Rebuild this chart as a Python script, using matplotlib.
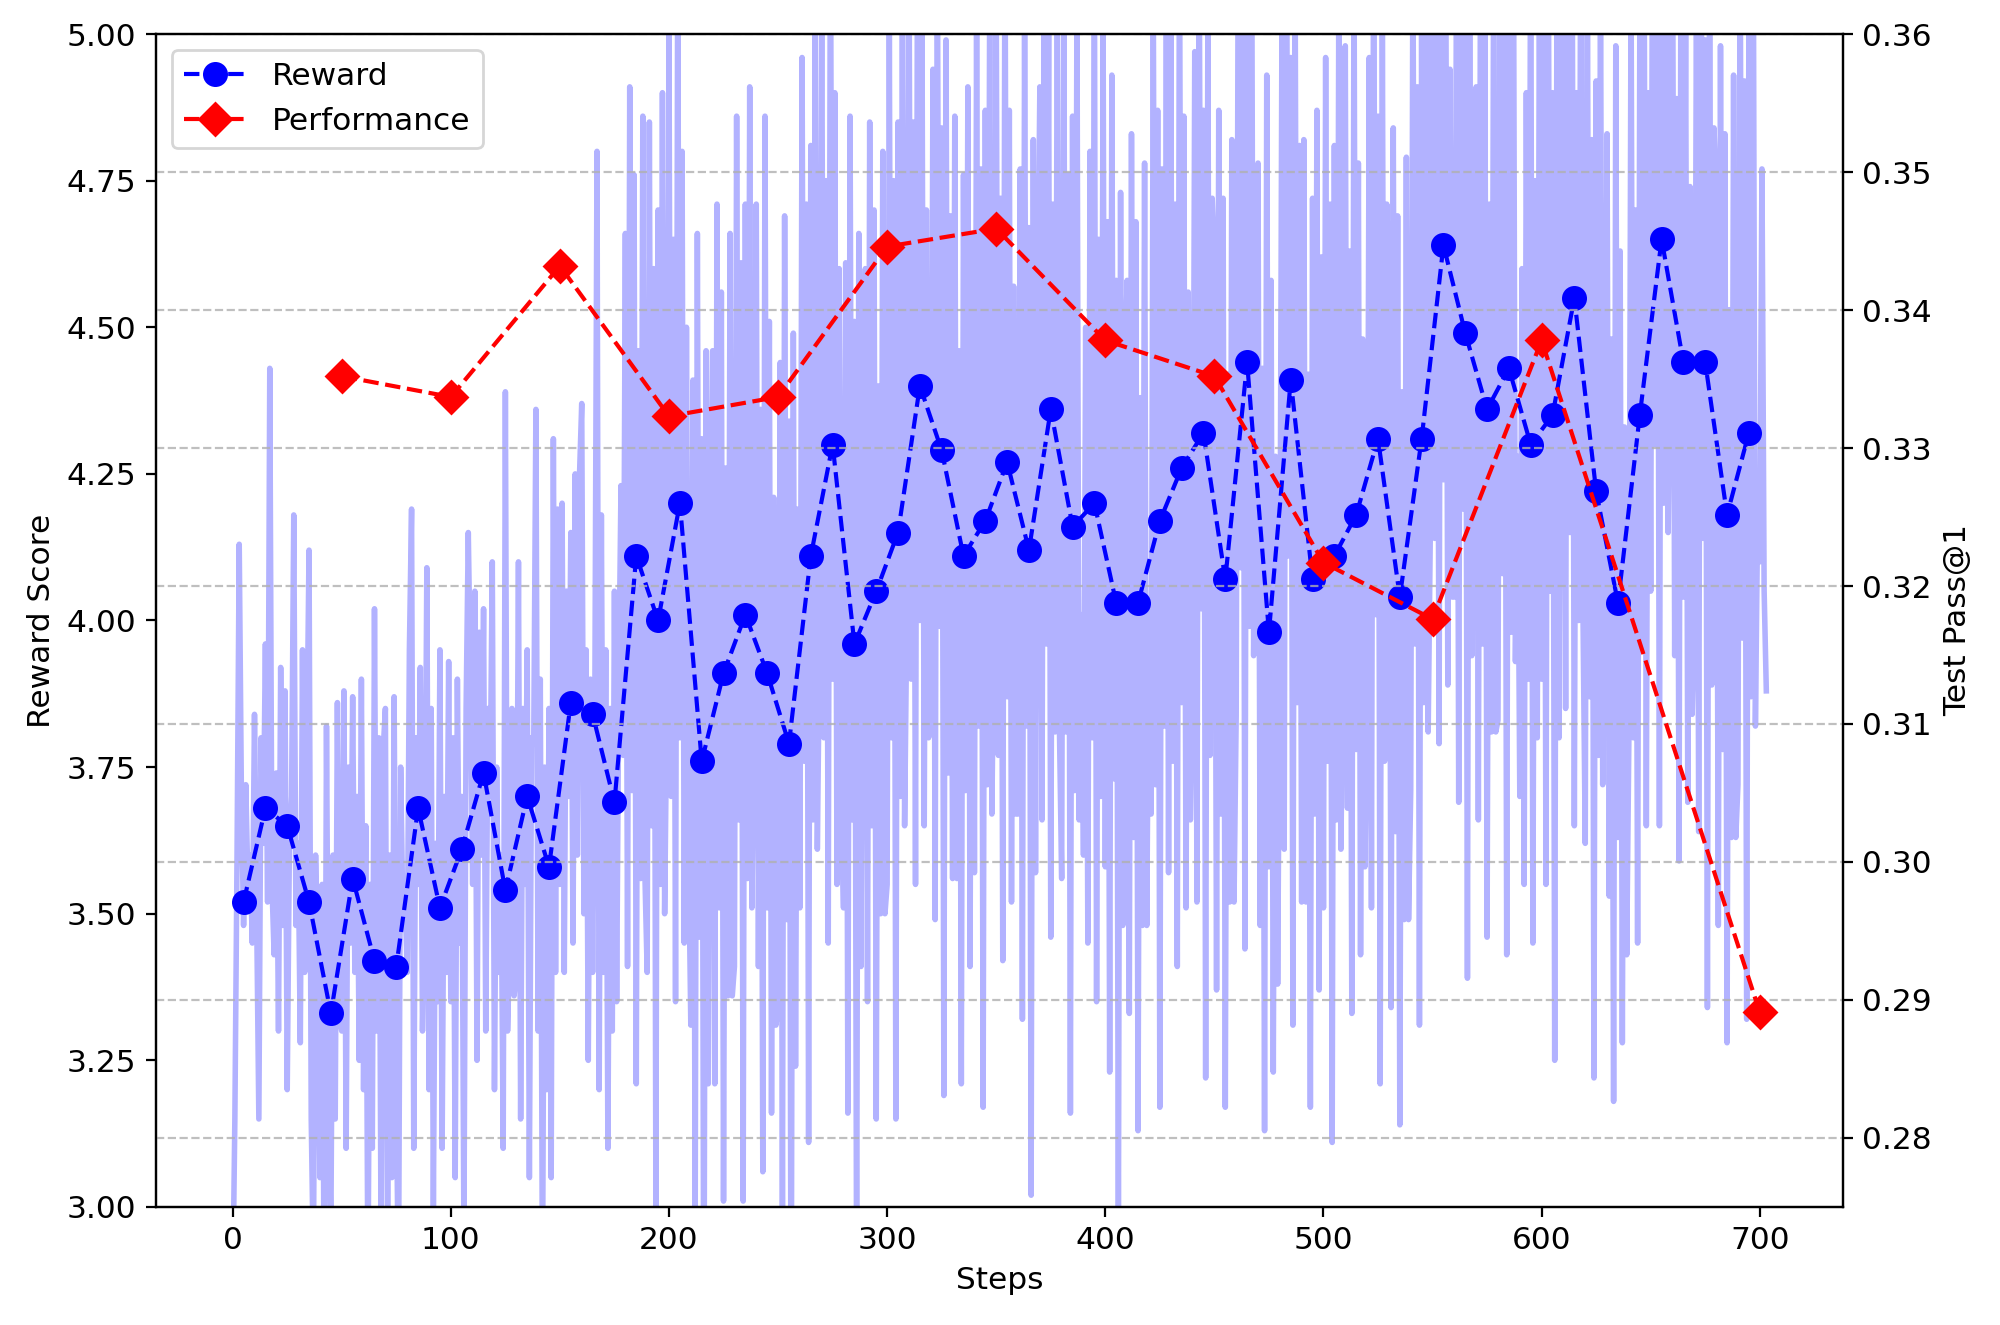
# Reward vs test performance over training steps

import matplotlib
matplotlib.use('Agg')
import matplotlib.pyplot as plt
import numpy as np

plt.rcParams['font.size'] = 11.25

# per-step reward (steps 0..703) in blocks of 10
raw_reward = [
    2.85, 3.15, 3.60, 4.13, 3.70, 3.48, 3.72, 3.55, 3.60, 3.45,
    3.84, 3.50, 3.15, 3.80, 3.62, 3.96, 3.52, 4.43, 3.55, 3.43,
    3.74, 3.30, 3.92, 3.48, 3.88, 3.20, 3.62, 3.70, 4.18, 3.48,
    3.62, 3.28, 3.95, 3.40, 3.78, 4.12, 3.15, 2.90, 3.60, 3.40,
    3.05, 3.55, 2.80, 3.82, 3.20, 2.95, 3.60, 3.15, 3.86, 3.32,
    3.30, 3.88, 3.10, 3.75, 3.45, 3.87, 3.40, 3.70, 3.25, 3.90,
    3.20, 3.65, 2.85, 3.55, 3.10, 4.02, 3.30, 3.80, 2.95, 3.78,
    3.85, 2.90, 3.60, 3.05, 3.87, 3.20, 2.85, 3.75, 3.50, 3.53,
    3.40, 3.95, 4.19, 3.10, 3.80, 3.55, 3.92, 3.30, 3.50, 4.09,
    3.20, 3.85, 3.00, 3.62, 3.35, 3.95, 3.10, 3.70, 3.40, 3.93,
    3.35, 3.80, 3.05, 3.90, 3.45, 3.70, 2.95, 3.85, 4.15, 3.90,
    3.55, 4.05, 3.25, 3.98, 3.60, 4.02, 3.30, 3.85, 3.70, 4.10,
    3.20, 3.75, 3.40, 3.60, 3.10, 4.39, 3.30, 3.45, 3.85, 3.36,
    3.40, 4.10, 3.15, 3.85, 3.55, 3.95, 3.05, 3.80, 3.79, 4.36,
    3.30, 3.90, 2.85, 3.75, 3.20, 3.85, 3.05, 4.31, 3.40, 4.19,
    3.55, 4.20, 3.40, 4.05, 3.70, 4.15, 3.45, 4.25, 3.60, 4.25,
    4.37, 3.50, 3.95, 3.25, 3.90, 3.40, 3.85, 4.80, 3.20, 4.18,
    3.40, 3.95, 3.10, 3.85, 3.30, 4.05, 3.35, 3.90, 4.23, 3.77,
    4.66, 3.41, 4.91, 3.71, 4.76, 3.21, 4.46, 3.56, 4.86, 3.56,
    3.40, 4.85, 3.65, 4.60, 3.00, 4.70, 3.55, 4.90, 3.50, 3.85,
    5.00, 3.70, 4.65, 3.35, 5.15, 3.80, 4.80, 3.45, 4.50, 3.60,
    3.31, 4.41, 2.96, 4.66, 3.46, 4.31, 2.66, 4.46, 3.21, 4.16,
    4.46, 3.21, 4.71, 3.51, 4.56, 3.01, 4.26, 3.36, 4.66, 3.36,
    3.41, 4.86, 3.66, 4.61, 3.01, 4.71, 3.56, 4.91, 3.51, 3.86,
    4.71, 3.41, 4.36, 3.06, 4.86, 3.51, 4.51, 3.16, 4.21, 3.31,
    3.34, 4.44, 2.99, 4.69, 3.49, 4.34, 2.69, 4.49, 3.24, 4.19,
    3.51, 4.96, 3.76, 4.71, 3.11, 4.81, 3.66, 5.01, 3.61, 3.96,
    5.10, 3.80, 4.75, 3.45, 5.25, 3.90, 4.90, 3.55, 4.60, 3.70,
    3.51, 4.61, 3.16, 4.86, 3.66, 4.51, 2.86, 4.66, 3.41, 4.36,
    4.60, 3.35, 4.85, 3.65, 4.70, 3.15, 4.40, 3.50, 4.80, 3.50,
    3.55, 5.00, 3.80, 4.75, 3.15, 4.85, 3.70, 5.05, 3.65, 4.00,
    5.20, 3.90, 4.85, 3.55, 5.35, 4.00, 5.00, 3.65, 4.70, 3.80,
    3.84, 4.94, 3.49, 5.19, 3.99, 4.84, 3.19, 4.99, 3.74, 4.69,
    3.56, 4.86, 3.56, 4.46, 3.21, 4.76, 3.71, 4.91, 3.41, 4.66,
    3.57, 5.02, 3.82, 4.77, 3.17, 4.87, 3.72, 5.07, 3.67, 4.02,
    5.07, 3.77, 4.72, 3.42, 5.22, 3.87, 4.87, 3.52, 4.57, 3.67,
    3.67, 4.77, 3.32, 5.02, 3.82, 4.67, 3.02, 4.82, 3.57, 4.52,
    4.91, 3.66, 5.16, 3.96, 5.01, 3.46, 4.71, 3.81, 5.11, 3.81,
    3.56, 5.01, 3.81, 4.76, 3.16, 4.86, 3.71, 5.06, 3.66, 4.01,
    3.60, 4.50, 3.45, 4.80, 3.80, 5.15, 3.35, 4.65, 3.70, 5.00,
    3.58, 4.68, 3.23, 4.93, 3.73, 4.58, 2.93, 4.73, 3.48, 4.43,
    4.58, 3.33, 4.83, 3.63, 4.68, 3.13, 4.38, 3.48, 4.78, 3.48,
    4.02, 3.67, 5.07, 3.72, 4.87, 3.17, 4.77, 3.82, 5.02, 3.57,
    5.06, 3.76, 4.71, 3.41, 5.21, 3.86, 4.86, 3.51, 4.56, 3.66,
    3.87, 4.97, 3.52, 5.22, 4.02, 4.87, 3.22, 5.02, 3.77, 4.72,
    4.62, 3.37, 4.87, 3.67, 4.72, 3.17, 4.42, 3.52, 4.82, 3.52,
    3.84, 5.29, 4.09, 5.04, 3.44, 5.14, 3.99, 5.34, 3.94, 4.29,
    4.78, 3.48, 4.43, 3.13, 4.93, 3.58, 4.58, 3.23, 4.28, 3.38,
    3.96, 5.06, 3.61, 5.31, 4.11, 4.96, 3.31, 5.11, 3.86, 4.81,
    3.52, 4.82, 3.52, 4.42, 3.17, 4.72, 3.67, 4.87, 3.37, 4.62,
    3.51, 4.96, 3.76, 4.71, 3.11, 4.81, 3.66, 5.01, 3.61, 3.96,
    4.98, 3.68, 4.63, 3.33, 5.13, 3.78, 4.78, 3.43, 4.48, 3.58,
    3.86, 4.96, 3.51, 5.21, 4.01, 4.86, 3.21, 5.01, 3.76, 4.71,
    4.59, 3.34, 4.84, 3.64, 4.69, 3.14, 4.39, 3.49, 4.79, 3.49,
    3.71, 5.16, 3.96, 4.91, 3.31, 5.01, 3.86, 5.21, 3.81, 4.16,
    5.44, 4.14, 5.09, 3.79, 5.59, 4.24, 5.24, 3.89, 4.94, 4.04,
    4.04, 5.14, 3.69, 5.39, 4.19, 5.04, 3.39, 5.19, 3.94, 4.89,
    4.91, 3.66, 5.16, 3.96, 5.01, 3.46, 4.71, 3.81, 5.11, 3.81,
    3.83, 5.28, 4.08, 5.03, 3.43, 5.13, 3.98, 5.33, 3.93, 4.28,
    3.70, 4.60, 3.55, 4.90, 3.90, 5.25, 3.45, 4.75, 3.80, 5.10,
    3.90, 5.00, 3.55, 5.25, 4.05, 4.90, 3.25, 5.05, 3.80, 4.75,
    5.10, 3.85, 5.35, 4.15, 5.20, 3.65, 4.90, 4.00, 5.30, 4.00,
    3.62, 5.07, 3.87, 4.82, 3.22, 4.92, 3.77, 5.12, 3.72, 4.07,
    4.83, 3.53, 4.48, 3.18, 4.98, 3.63, 4.63, 3.28, 4.33, 3.43,
    3.80, 5.10, 3.80, 4.70, 3.45, 5.00, 3.95, 5.15, 3.65, 4.90,
    4.05, 5.50, 4.30, 5.25, 3.65, 5.35, 4.20, 5.55, 4.15, 4.50,
    5.24, 3.94, 4.89, 3.59, 5.39, 4.04, 5.04, 3.69, 4.74, 3.84,
    3.99, 5.09, 3.64, 5.34, 4.14, 4.99, 3.34, 5.14, 3.89, 4.84,
    4.73, 3.48, 4.98, 3.78, 4.83, 3.28, 4.53, 3.63, 4.93, 3.63,
    3.72, 5.17, 3.97, 4.92, 3.32, 5.02, 3.87, 5.22, 3.82, 4.17,
    4.10, 4.77, 4.05, 3.88,
]
raw_steps = np.arange(len(raw_reward))

# averaged reward every 10 steps
reward_steps = np.arange(5, 700, 10)
reward_avg = [
    3.52, 3.68, 3.65, 3.52, 3.33, 3.56, 3.42, 3.41, 3.68, 3.51,
    3.61, 3.74, 3.54, 3.70, 3.58, 3.86, 3.84, 3.69, 4.11, 4.00,
    4.20, 3.76, 3.91, 4.01, 3.91, 3.79, 4.11, 4.30, 3.96, 4.05,
    4.15, 4.40, 4.29, 4.11, 4.17, 4.27, 4.12, 4.36, 4.16, 4.20,
    4.03, 4.03, 4.17, 4.26, 4.32, 4.07, 4.44, 3.98, 4.41, 4.07,
    4.11, 4.18, 4.31, 4.04, 4.31, 4.64, 4.49, 4.36, 4.43, 4.30,
    4.35, 4.55, 4.22, 4.03, 4.35, 4.65, 4.44, 4.44, 4.18, 4.32,
]

# test pass@1 at evaluation checkpoints
perf_steps = [50, 100, 150, 200, 250, 300, 350, 400, 450, 500, 550, 600, 700]
perf_vals = [0.3352, 0.3337, 0.3432, 0.3323, 0.3337, 0.3446, 0.3459,
             0.3378, 0.3352, 0.3217, 0.3176, 0.3378, 0.2891]

fig, ax1 = plt.subplots(figsize=(10, 6.625), dpi=200)
fig.subplots_adjust(left=0.078, right=0.9215, top=0.9743, bottom=0.0891)

ax1.plot(raw_steps, raw_reward, color='blue', alpha=0.3, linewidth=2)
l1, = ax1.plot(reward_steps, reward_avg, 'o--', color='blue',
               markersize=8, linewidth=1.5, label='Reward')
ax1.set_ylim(3.0, 5.0)
ax1.set_xlabel('Steps')
ax1.set_ylabel('Reward Score')

ax2 = ax1.twinx()
l2, = ax2.plot(perf_steps, perf_vals, 'D--', color='red',
               markersize=8, linewidth=1.5, label='Performance')
ax2.set_ylim(0.275, 0.36)
ax2.set_yticks(np.arange(0.28, 0.3601, 0.01))
ax2.set_ylabel('Test Pass@1')
ax2.grid(True, axis='y', linestyle='--', alpha=0.8)

ax2.legend(handles=[l1, l2], loc='upper left')

plt.savefig('out.png', dpi=200)
